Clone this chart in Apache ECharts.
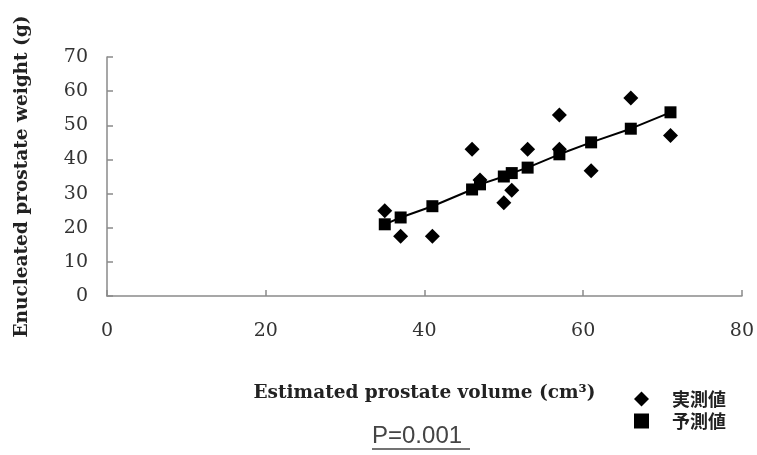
<!DOCTYPE html>
<html>
<head>
<meta charset="utf-8">
<script src="https://cdn.jsdelivr.net/npm/echarts@6/dist/echarts.min.js"></script>
<style>
  html, body { margin: 0; padding: 0; background: #fff; }
  #chart { width: 757px; height: 455px; }
</style>
</head>
<body>
<div id="chart"></div>
<script>
// 実測値 (measured) — estimated volume vs enucleated weight
const measuredX = [35, 37, 41, 46, 47, 50, 51, 53, 57, 57, 61, 66, 71]
const measuredY = [25, 17.5, 17.5, 43, 34, 27.3, 31, 43, 53, 43, 36.7, 58, 47]

// 予測値 (predicted) — regression line points
const predictedX = [35, 37, 41, 46, 47, 50, 51, 53, 57, 61, 66, 71]
const predictedY = [21, 23, 26.3, 31.2, 32.7, 35, 36, 37.6, 41.5, 45, 49, 53.8]

const xTicks = [0, 20, 40, 60, 80]
const yTicks = [0, 10, 20, 30, 40, 50, 60, 70]

const serif = '"DejaVu Serif", serif'
const axisGray = '#8a8a8a'
const labelColor = '#333'

const chart = echarts.init(document.getElementById('chart'))

chart.setOption({
  animation: false,
  backgroundColor: '#fff',
  grid: { left: 107, right: 13, top: 57, bottom: 159 },
  xAxis: {
    type: 'value',
    min: xTicks[0],
    max: xTicks[xTicks.length - 1],
    interval: 20,
    name: 'Estimated prostate volume (cm³)',
    nameLocation: 'middle',
    nameGap: 88,
    nameTextStyle: { fontFamily: serif, fontWeight: 'bold', fontSize: 18.5, color: '#222' },
    axisLine: { lineStyle: { color: axisGray, width: 1.5 } },
    axisTick: { inside: true, length: 6, lineStyle: { color: axisGray, width: 1.5 } },
    axisLabel: { margin: 26, fontFamily: serif, fontSize: 19, color: labelColor },
    splitLine: { show: false }
  },
  yAxis: {
    type: 'value',
    min: yTicks[0],
    max: yTicks[yTicks.length - 1],
    interval: 10,
    name: 'Enucleated prostate weight (g)',
    nameLocation: 'middle',
    nameGap: 75,
    nameTextStyle: { fontFamily: serif, fontWeight: 'bold', fontSize: 18.5, color: '#222' },
    axisLine: { show: true, lineStyle: { color: axisGray, width: 1.5 } },
    axisTick: { show: true, inside: true, length: 6, lineStyle: { color: axisGray, width: 1.5 } },
    axisLabel: { margin: 19, fontFamily: serif, fontSize: 19, color: labelColor },
    splitLine: { show: false }
  },
  legend: {
    orient: 'vertical',
    left: 629,
    top: 385,
    itemWidth: 15,
    itemHeight: 15,
    itemGap: 4,
    textStyle: {
      fontFamily: '"Noto Sans CJK JP", sans-serif',
      fontWeight: 'bold',
      fontSize: 18,
      color: '#222',
      padding: [0, 0, 0, 18]
    },
    data: [
      { name: '実測値', icon: 'diamond' },
      { name: '予測値', icon: 'rect' }
    ]
  },
  graphic: [
    {
      type: 'text',
      left: 372,
      top: 424,
      style: {
        text: 'P=0.001',
        font: '24px "Liberation Sans", sans-serif',
        fill: '#444'
      }
    },
    {
      type: 'line',
      shape: { x1: 372, y1: 449, x2: 470, y2: 449 },
      style: { stroke: '#444', lineWidth: 1.5 }
    }
  ],
  series: [
    {
      name: '実測値',
      type: 'scatter',
      symbol: 'diamond',
      symbolSize: 15,
      itemStyle: { color: '#000', opacity: 1 },
      data: measuredX.map((x, i) => [x, measuredY[i]])
    },
    {
      name: '予測値',
      type: 'line',
      symbol: 'rect',
      symbolSize: 12,
      showAllSymbol: true,
      itemStyle: { color: '#000' },
      lineStyle: { color: '#000', width: 2 },
      data: predictedX.map((x, i) => [x, predictedY[i]])
    }
  ]
})
</script>
</body>
</html>
